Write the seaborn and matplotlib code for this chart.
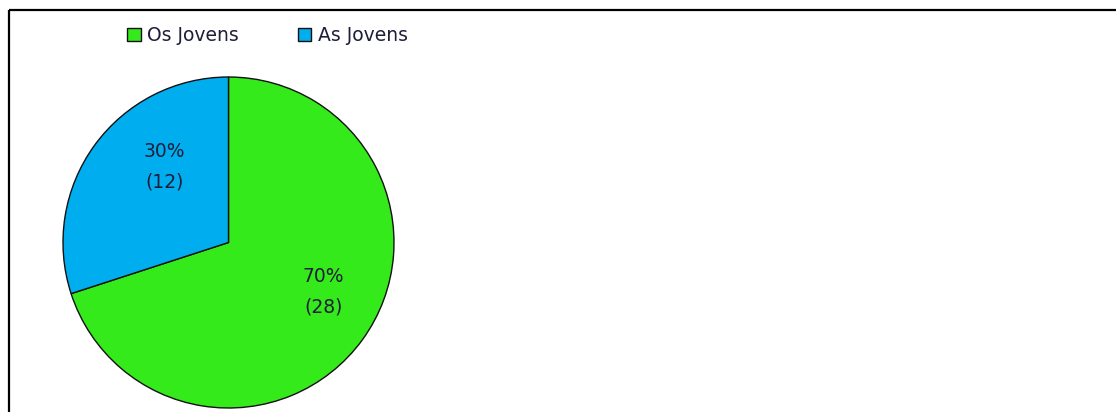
import matplotlib
matplotlib.use("Agg")
import matplotlib.pyplot as plt
import seaborn as sns
import numpy as np
from matplotlib.lines import Line2D

# Data
categories = ["Os Jovens", "As Jovens"]
counts = [28, 12]
colors = ["#35EA1A", "#00AEEF"]

sns.set_theme(style="white")
plt.rcParams['font.family'] = ['DejaVu Sans']

W, H = 1116, 412
fig = plt.figure(figsize=(W / 100, H / 100), dpi=100)
fig.patch.set_facecolor("white")

cx, cy, r = 228.5, 242.5, 165.5
ax = fig.add_axes([(cx - r) / W, (H - cy - r) / H, 2 * r / W, 2 * r / H])

total = sum(counts)
txt_color = "#1E1E38"

wedges, texts, autotexts = ax.pie(
    counts,
    colors=colors,
    startangle=90,
    counterclock=False,
    radius=1.0,
    autopct=lambda p: f"{p:.0f}%\n({round(p * total / 100)})",
    pctdistance=0.62,
    wedgeprops=dict(edgecolor="#111111", linewidth=1.0),
    textprops=dict(color=txt_color, fontsize=13.5, linespacing=1.75),
    frame=False,
)

# label placement similar to the spreadsheet "best fit" layout
label_shift_deg = [8.5, -14.0]
label_dist = [0.645, 0.6]
for w, t, s, d in zip(wedges, autotexts, label_shift_deg, label_dist):
    mid = np.deg2rad((w.theta1 + w.theta2) / 2 + s)
    t.set_position((d * np.cos(mid), d * np.sin(mid)))

ax.set_xlim(-1, 1)
ax.set_ylim(-1, 1)
ax.set_aspect("equal")
ax.axis("off")

# legend at top
leg = fig.legend(
    wedges, categories,
    ncol=2, loc="center left",
    bbox_to_anchor=(127 / W, 1 - 35.5 / H),
    frameon=False, fontsize=13.5,
    handlelength=0.72, handleheight=0.72,
    handletextpad=0.35, columnspacing=3.15,
    borderpad=0, borderaxespad=0,
)
for t in leg.get_texts():
    t.set_color(txt_color)

# outer frame (left and top edges visible)
fig.add_artist(Line2D([9 / W, 9 / W], [0, 1 - 10 / H], transform=fig.transFigure,
                      color="black", linewidth=1.6, solid_capstyle="butt"))
fig.add_artist(Line2D([9 / W, 1], [1 - 10 / H, 1 - 10 / H], transform=fig.transFigure,
                      color="black", linewidth=1.6, solid_capstyle="butt"))

fig.savefig("out.png", dpi=100, facecolor="white")
